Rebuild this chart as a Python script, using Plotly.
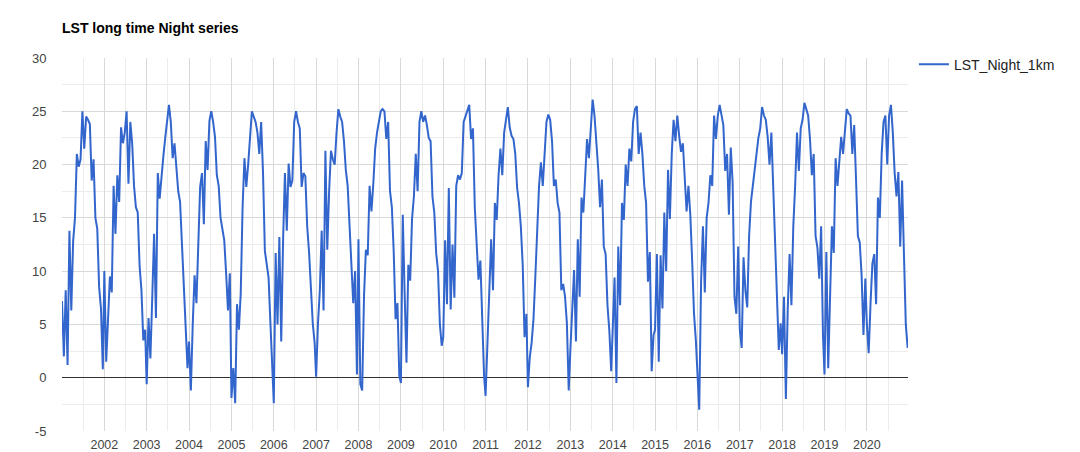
import datetime as dt
import plotly.graph_objects as go

# 16-day night LST composites (degrees C), one list per year
LST_2001 = [7.2, 2.0, 8.2, 1.2, 13.8, 6.3, 12.8, 15.0, 21.0, 19.8, 20.5, 25.0, 21.5, 24.5, 24.2, 23.8, 18.5, 20.5, 15.0, 14.0, 8.5, 6.5, 0.8]
LST_2002 = [10.0, 1.5, 5.5, 9.5, 8.0, 18.0, 13.5, 19.0, 16.5, 23.5, 22.0, 23.0, 25.0, 18.2, 24.0, 22.0, 18.0, 16.0, 15.5, 10.5, 8.2, 3.5, 4.5]
LST_2003 = [-0.6, 5.6, 1.8, 7.5, 13.5, 5.6, 19.2, 16.8, 19.2, 20.8, 22.5, 24.0, 25.6, 24.0, 20.6, 22.0, 19.2, 17.5, 16.5, 12.2, 8.2, 5.1, 0.9]
LST_2004 = [3.4, -1.2, 5.0, 9.6, 7.0, 12.8, 17.9, 19.2, 14.4, 22.2, 19.5, 24.1, 25.0, 24.0, 22.6, 19.0, 18.0, 15.0, 14.0, 12.9, 9.8, 6.3, 9.8]
LST_2005 = [-1.9, 0.9, -2.4, 6.9, 4.5, 7.9, 16.0, 20.6, 17.9, 20.0, 22.6, 25.0, 24.5, 24.0, 23.0, 21.0, 24.0, 19.3, 11.9, 10.5, 9.4, 5.1, 0.3]
LST_2006 = [-2.4, 11.7, 5.0, 13.2, 3.4, 12.8, 19.2, 13.8, 20.1, 17.9, 18.5, 24.0, 25.0, 24.0, 23.4, 17.9, 19.2, 18.9, 14.2, 11.8, 8.0, 5.1, 3.3]
LST_2007 = [0.1, 5.1, 8.2, 13.8, 6.3, 21.3, 12.0, 17.5, 21.3, 20.5, 20.0, 23.0, 25.2, 24.5, 24.0, 22.2, 19.5, 18.0, 14.5, 11.5, 7.0, 10.0, 0.3]
LST_2008 = [13.0, -0.6, -1.2, 7.7, 12.0, 11.5, 18.0, 15.6, 18.2, 21.5, 23.0, 24.1, 25.0, 25.2, 25.0, 22.4, 24.0, 17.5, 16.0, 11.8, 5.5, 7.0, 0.2]
LST_2009 = [-0.5, 15.3, 8.0, 1.4, 10.6, 9.1, 14.9, 17.0, 21.0, 17.5, 24.0, 25.0, 24.0, 24.6, 23.7, 22.5, 22.2, 17.0, 15.5, 11.7, 10.0, 5.0, 3.0]
LST_2010 = [3.8, 12.9, 6.9, 17.8, 6.4, 12.5, 7.5, 18.0, 19.0, 18.6, 19.2, 24.0, 24.6, 25.0, 25.6, 22.4, 23.4, 16.0, 12.5, 9.2, 11.0, 5.2, 0.2]
LST_2011 = [-1.7, 3.3, 6.5, 13.0, 8.2, 16.4, 14.8, 19.0, 21.5, 19.0, 23.0, 24.0, 25.4, 23.5, 22.7, 22.4, 21.0, 17.8, 16.4, 14.2, 10.6, 3.8, 6.0]
LST_2012 = [-0.9, 1.9, 3.3, 5.5, 9.5, 14.2, 18.0, 20.2, 18.0, 21.0, 24.0, 24.7, 24.2, 22.2, 18.0, 18.6, 16.4, 15.5, 8.2, 8.8, 7.6, 5.1, -1.2]
LST_2013 = [2.6, 6.0, 10.1, 3.4, 13.0, 7.6, 16.9, 15.5, 19.5, 22.4, 20.6, 24.0, 26.1, 24.6, 22.3, 19.6, 16.0, 18.6, 12.3, 11.6, 6.8, 4.4, 0.6]
LST_2014 = [4.0, 9.4, -0.5, 12.3, 6.8, 16.4, 14.8, 20.0, 18.0, 21.5, 20.3, 24.0, 25.2, 25.5, 21.0, 23.0, 21.0, 18.0, 16.4, 9.0, 11.8, 0.6, 4.0]
LST_2015 = [4.5, 11.6, 1.5, 11.5, 6.5, 15.5, 10.0, 19.5, 14.9, 21.0, 24.2, 22.2, 24.6, 22.7, 21.2, 22.0, 18.0, 15.6, 18.0, 15.3, 11.0, 6.0, 3.5]
LST_2016 = [0.9, -3.0, 9.0, 14.2, 8.0, 15.0, 16.4, 19.0, 18.0, 24.6, 22.4, 24.6, 25.6, 24.6, 23.7, 19.4, 21.0, 15.3, 21.6, 18.3, 7.6, 6.0, 12.3]
LST_2017 = [4.5, 2.8, 11.3, 8.2, 6.6, 13.3, 16.5, 18.0, 19.5, 21.0, 22.5, 23.4, 25.4, 24.6, 24.2, 22.6, 20.0, 23.0, 18.3, 12.3, 8.2, 2.6, 5.1]
LST_2018 = [2.2, 7.6, -2.0, 6.4, 11.6, 6.8, 14.2, 18.0, 23.0, 19.4, 23.4, 24.2, 25.8, 25.2, 24.6, 22.4, 19.0, 21.0, 13.3, 12.2, 9.3, 14.2, 4.0]
LST_2019 = [0.3, 11.8, 0.9, 6.8, 14.2, 11.7, 20.6, 18.0, 20.0, 22.6, 21.0, 23.4, 25.2, 24.8, 24.6, 21.0, 23.7, 18.6, 13.3, 12.7, 9.6, 4.0, 9.3]
LST_2020 = [5.1, 2.3, 7.0, 10.7, 11.6, 6.9, 16.9, 15.0, 21.0, 24.0, 24.6, 20.0, 24.6, 25.6, 23.0, 19.2, 17.0, 19.3, 12.3, 18.5, 11.6, 5.0, 2.8]

YEARS = list(range(2001, 2021))
YEAR_SERIES = [LST_2001, LST_2002, LST_2003, LST_2004, LST_2005, LST_2006, LST_2007,
               LST_2008, LST_2009, LST_2010, LST_2011, LST_2012, LST_2013, LST_2014,
               LST_2015, LST_2016, LST_2017, LST_2018, LST_2019, LST_2020]
COMPOSITE_DAYS = 16

TICK_YEARS = list(range(2002, 2021))
Y_TICKS = [-5, 0, 5, 10, 15, 20, 25, 30]

SERIES_NAME = "LST_Night_1km"
TITLE = "LST long time Night series"

dates, values = [], []
for yr, vals in zip(YEARS, YEAR_SERIES):
    start = dt.date(yr, 1, 1)
    for k, v in enumerate(vals):
        dates.append(start + dt.timedelta(days=COMPOSITE_DAYS * k))
        values.append(v)

FONT = "Arial, 'Liberation Sans', sans-serif"

fig = go.Figure()
fig.add_trace(go.Scatter(
    x=dates, y=values, mode="lines", name=SERIES_NAME,
    line=dict(color="#3366cc", width=2), hoverinfo="skip",
))

fig.update_layout(
    width=1080, height=452,
    margin=dict(l=62, r=172, t=58, b=21),
    paper_bgcolor="white", plot_bgcolor="white",
    font=dict(family=FONT, size=13, color="#444444"),
    title=dict(text="<b>" + TITLE + "</b>", x=62 / 1080, xanchor="left",
               y=1 - 28 / 452, yanchor="middle",
               font=dict(family=FONT, size=14, color="#000000")),
    showlegend=True,
    legend=dict(x=1.007, xanchor="left", y=1.025, yanchor="top",
                font=dict(family=FONT, size=14, color="#222222"),
                bgcolor="rgba(0,0,0,0)", itemwidth=30),
    xaxis=dict(
        type="date",
        automargin=False,
        range=[dt.date(2001, 1, 1), dt.date(2020, 12, 21)],
        tickmode="array",
        tickvals=[dt.date(y, 1, 1) for y in TICK_YEARS],
        ticktext=[str(y) for y in TICK_YEARS],
        ticks="outside", ticklen=2, tickcolor="rgba(0,0,0,0)",
        showgrid=True, gridcolor="#d9d9d9", gridwidth=1,
        minor=dict(tickmode="array",
                   tickvals=[dt.date(y, 7, 2) for y in YEARS],
                   showgrid=True, gridcolor="#ececec", gridwidth=1, ticks=""),
        showline=False, zeroline=False,
        tickfont=dict(family=FONT, size=12.5, color="#444444"),
    ),
    yaxis=dict(
        automargin=False,
        range=[-5, 30],
        tickmode="array", tickvals=Y_TICKS, ticktext=[str(v) for v in Y_TICKS],
        ticks="outside", ticklen=12, tickcolor="rgba(0,0,0,0)",
        showgrid=True, gridcolor="#d9d9d9", gridwidth=1,
        minor=dict(dtick=2.5, tick0=0, showgrid=True, gridcolor="#ececec", gridwidth=1, ticks=""),
        zeroline=True, zerolinecolor="#333333", zerolinewidth=1,
        showline=False,
        tickfont=dict(family=FONT, size=13, color="#444444"),
    ),
)

fig.write_html("out.html",
               config={"displayModeBar": False, "staticPlot": True},
               post_script="document.body.style.margin='0';document.body.style.overflow='hidden';")
